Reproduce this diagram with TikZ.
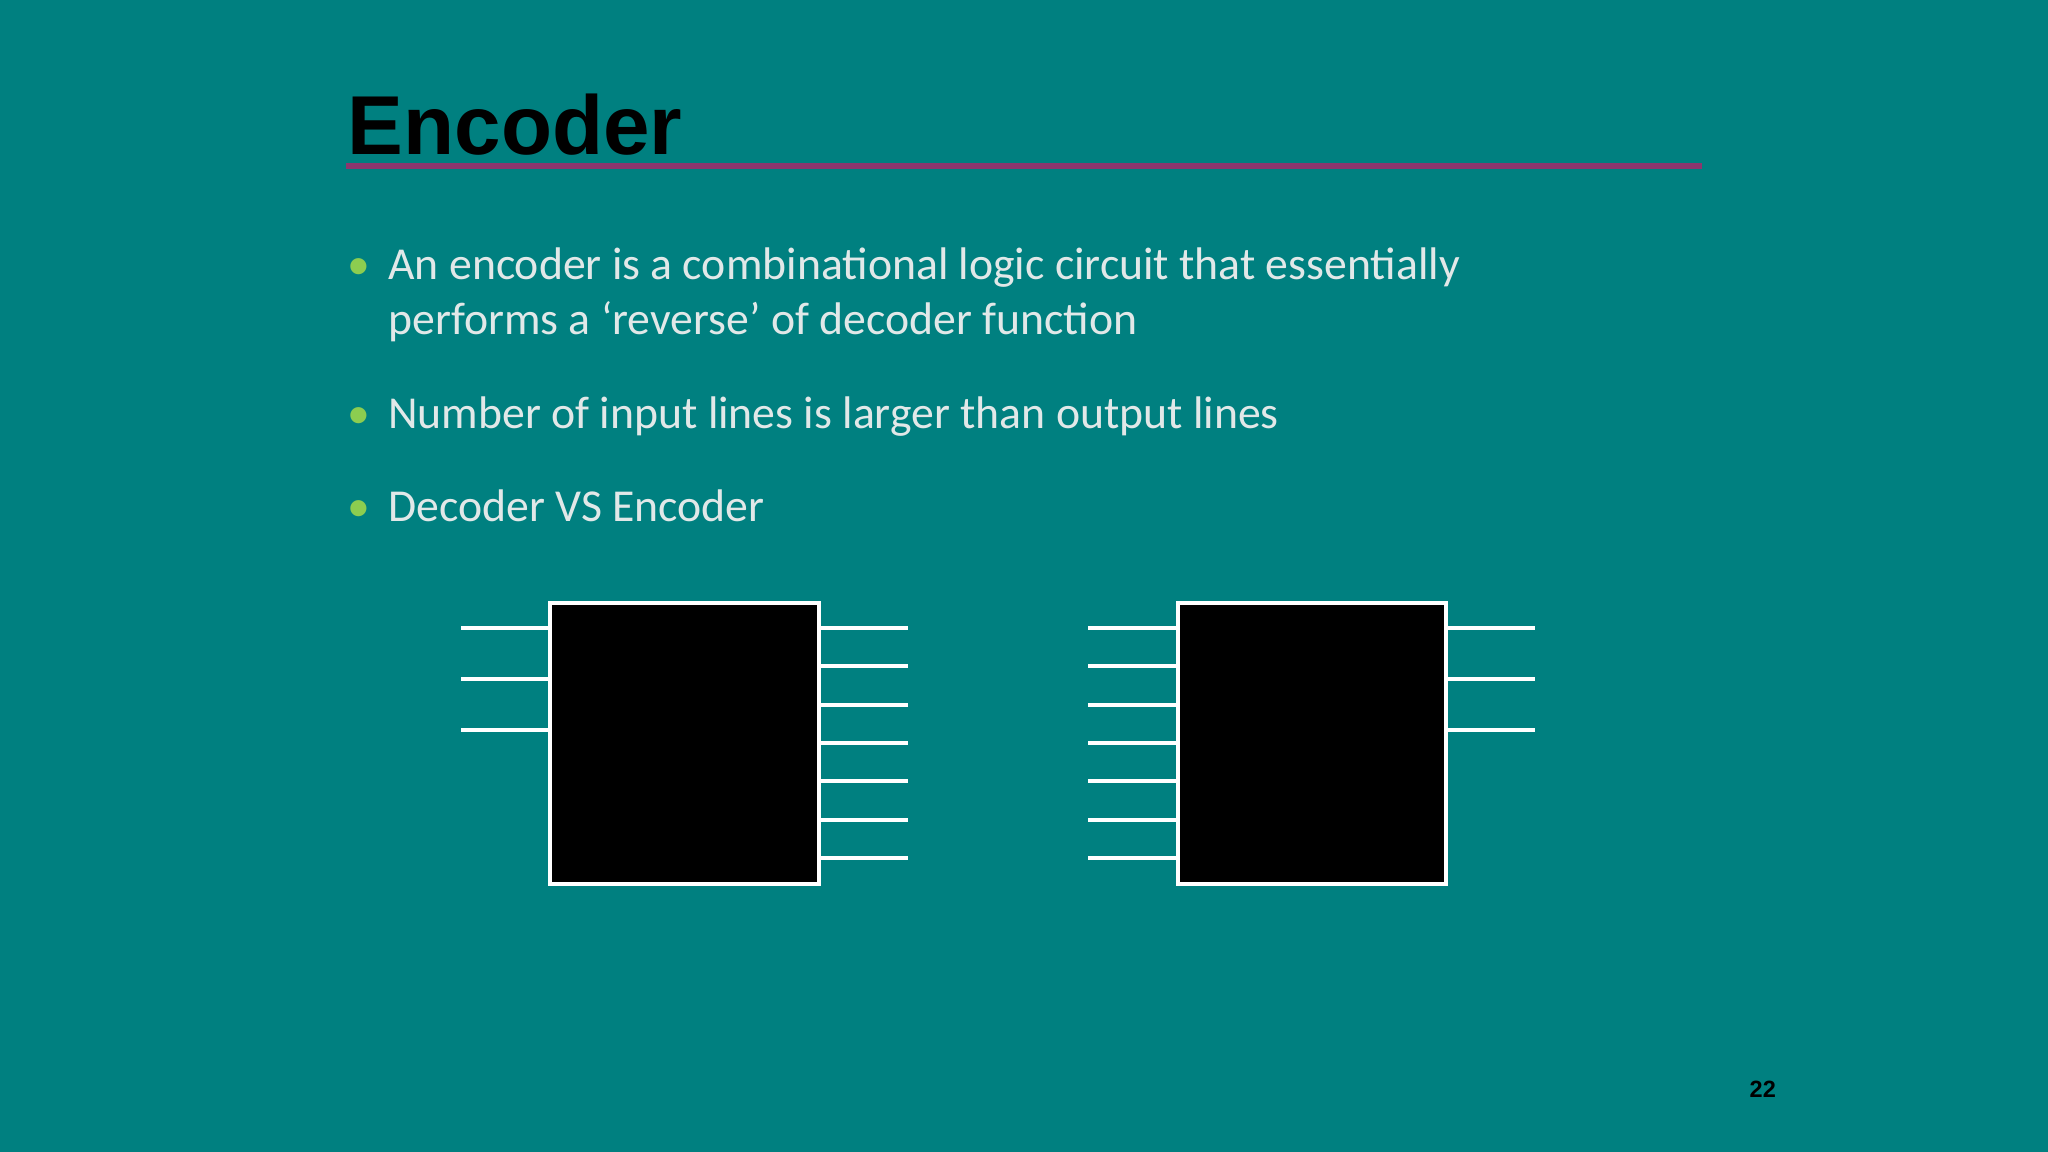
\documentclass[tikz,border=0pt]{standalone}
\usepackage{fontspec}
\setmainfont{Carlito}
\newfontfamily\titlefont{Liberation Sans}
\definecolor{bg}{RGB}{0,128,128}
\definecolor{txt}{RGB}{225,232,232}
\definecolor{bul}{RGB}{140,205,80}
\definecolor{rule}{RGB}{140,55,110}
\begin{document}
\begin{tikzpicture}[x=0.5pt,y=-0.5pt,
  wire/.style={white,line width=1.5pt},
  chip/.style={draw=white,fill=black,line width=1.5pt},
  body/.style={anchor=base west,inner sep=0pt,text=txt,font=\fontsize{17.5}{21}\selectfont},
  dot/.style={anchor=base west,inner sep=0pt,text=bul,font=\fontsize{17.5}{21}\selectfont}]
\useasboundingbox[fill=bg] (0,0) rectangle (1568,882);
\node[anchor=base west,inner sep=0pt,font=\titlefont\bfseries\fontsize{32}{36}\selectfont] (title) at (266,118) {Encoder};
\draw[rule,line width=2.5pt] (265,127) coordinate (r1) -- (1303,127) coordinate (r2);
\node[dot] (b1) at (266,214) {•};
\node[body] (t1) at (297,214) {An encoder is a combinational logic circuit that essentially};
\node[body] (t1b) at (297,256) {performs a ‘reverse’ of decoder function};
\node[dot] (b2) at (266,328) {•};
\node[body] (t2) at (297,328) {Number of input lines is larger than output lines};
\node[dot] (b3) at (266,399) {•};
\node[body] (t3) at (297,399) {Decoder VS Encoder};
% left chip
\foreach \y in {481,520,559} \draw[wire] (353,\y) -- (421,\y);
\foreach \y in {481,510,540,569,598,628,657} \draw[wire] (627,\y) -- (695,\y);
\draw[chip] (421,462) rectangle (627,677);
% right chip
\foreach \y in {481,510,540,569,598,628,657} \draw[wire] (833,\y) -- (902,\y);
\foreach \y in {481,520,559} \draw[wire] (1107,\y) -- (1175,\y);
\draw[chip] (902,462) rectangle (1107,677);
\node[anchor=base east,inner sep=0pt,font=\titlefont\bfseries\fontsize{9}{10}\selectfont] (pg) at (1360,840) {22};
\end{tikzpicture}
\end{document}
